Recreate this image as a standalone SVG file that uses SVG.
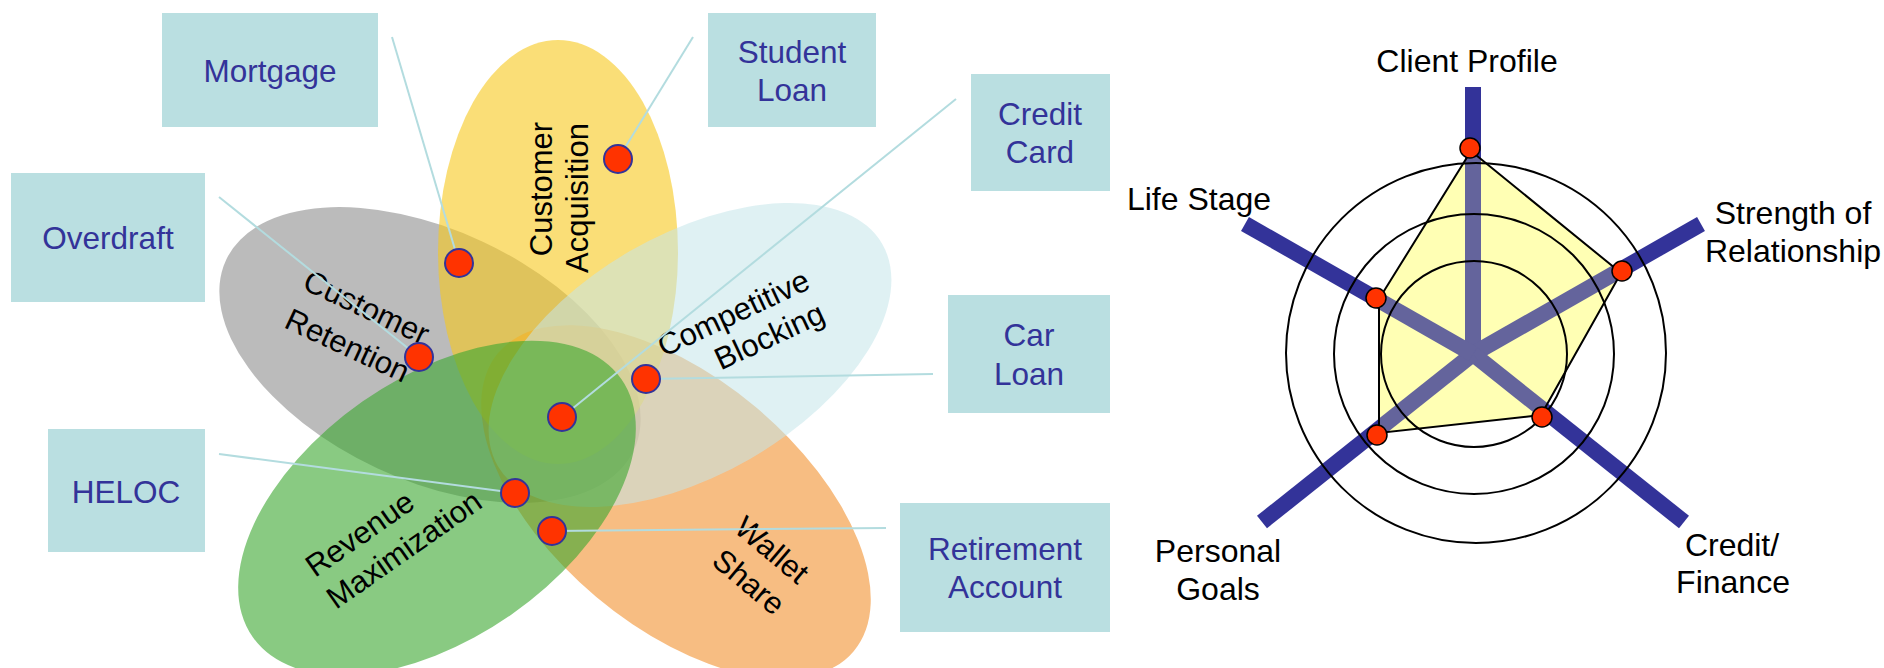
<svg xmlns="http://www.w3.org/2000/svg" width="1884" height="668" viewBox="0 0 1884 668">
<style>
.box{fill:#BADFE1}
.bt{font-family:"Liberation Sans",Arial,sans-serif;font-size:31.5px;fill:#333399;text-anchor:middle}
.pt{font-family:"Liberation Sans",Arial,sans-serif;font-size:31px;fill:#000}
.conn{stroke:#B3DCDF;stroke-width:2;fill:none}
.dot{fill:#FF3300;stroke:#333399;stroke-width:2}
.ring{fill:none;stroke:#000;stroke-width:2}
.spoke{stroke:#333399;stroke-width:16;stroke-linecap:butt}
.ispoke{stroke:#64649C;stroke-width:16}
.rdot{fill:#FF3300;stroke:#000;stroke-width:1.5}
.rl{font-family:"Liberation Sans",Arial,sans-serif;font-size:32px;fill:#000;text-anchor:middle}
</style>
<defs>
<clipPath id="polyclip"><polygon points="1471,151 1621,273 1541,415 1379,433 1379,299"/></clipPath>
</defs>
<rect width="1884" height="668" fill="#fff"/>

<g id="petals">
<g id="petal-retention"><ellipse cx="430" cy="355" rx="225" ry="125" transform="rotate(25 430 355)" fill="#8E8E8E" fill-opacity="0.6"/></g>
<g id="petal-wallet"><ellipse cx="676" cy="502" rx="232" ry="124" transform="rotate(40 676 502)" fill="#F2912F" fill-opacity="0.6"/></g>
<g id="petal-acquisition"><ellipse cx="558" cy="252" rx="120" ry="212" fill="#F7C81C" fill-opacity="0.6"/></g>
<g id="petal-blocking"><ellipse cx="690" cy="355" rx="222" ry="120" transform="rotate(-30 690 355)" fill="#C4E6E9" fill-opacity="0.55"/></g>
<g id="petal-revenue"><ellipse cx="437" cy="508" rx="225" ry="130" transform="rotate(-35 437 508)" fill="#3AA62E" fill-opacity="0.6"/></g>
</g>

<g id="petal-labels">
<text class="pt" text-anchor="middle" transform="translate(552,189) rotate(-90)">Customer</text>
<text class="pt" text-anchor="middle" transform="translate(588,198) rotate(-90)">Acquisition</text>
<text class="pt" text-anchor="middle" transform="translate(362,317) rotate(25)">Customer</text>
<text class="pt" text-anchor="middle" transform="translate(343,355) rotate(25)">Retention</text>
<text class="pt" text-anchor="end" transform="translate(812,288) rotate(-25)">Competitive</text>
<text class="pt" text-anchor="end" transform="translate(827,321) rotate(-25)">Blocking</text>
<text class="pt" text-anchor="start" transform="translate(315,578) rotate(-35)">Revenue</text>
<text class="pt" text-anchor="start" transform="translate(336,610) rotate(-35)">Maximization</text>
<text class="pt" text-anchor="middle" transform="translate(765,558) rotate(40)">Wallet</text>
<text class="pt" text-anchor="middle" transform="translate(742,590) rotate(40)">Share</text>
</g>

<g id="connectors">
<line class="conn" x1="392" y1="37" x2="459" y2="263"/>
<line class="conn" x1="693" y1="37" x2="618" y2="159"/>
<line class="conn" x1="956" y1="99" x2="562" y2="417"/>
<line class="conn" x1="219" y1="197" x2="419" y2="357"/>
<line class="conn" x1="933" y1="374" x2="646" y2="379"/>
<line class="conn" x1="219" y1="454" x2="515" y2="493"/>
<line class="conn" x1="886" y1="528" x2="552" y2="531"/>
<circle class="dot" cx="618" cy="159" r="14"/>
<circle class="dot" cx="459" cy="263" r="14"/>
<circle class="dot" cx="419" cy="357" r="14"/>
<circle class="dot" cx="646" cy="379" r="14"/>
<circle class="dot" cx="562" cy="417" r="14"/>
<circle class="dot" cx="515" cy="493" r="14"/>
<circle class="dot" cx="552" cy="531" r="14"/>
</g>

<g id="node-mortgage"><rect class="box" x="162" y="13" width="216" height="114"/><text class="bt" x="270" y="82">Mortgage</text></g>
<g id="node-student-loan"><rect class="box" x="708" y="13" width="168" height="114"/><text class="bt" x="792" y="63">Student</text><text class="bt" x="792" y="101">Loan</text></g>
<g id="node-credit-card"><rect class="box" x="971" y="74" width="139" height="117"/><text class="bt" x="1040" y="125">Credit</text><text class="bt" x="1040" y="163">Card</text></g>
<g id="node-overdraft"><rect class="box" x="11" y="173" width="194" height="129"/><text class="bt" x="108" y="249">Overdraft</text></g>
<g id="node-car-loan"><rect class="box" x="948" y="295" width="162" height="118"/><text class="bt" x="1029" y="346">Car</text><text class="bt" x="1029" y="385">Loan</text></g>
<g id="node-heloc"><rect class="box" x="48" y="429" width="157" height="123"/><text class="bt" x="126" y="503">HELOC</text></g>
<g id="node-retirement"><rect class="box" x="900" y="503" width="210" height="129"/><text class="bt" x="1005" y="560">Retirement</text><text class="bt" x="1005" y="598">Account</text></g>

<g id="radar">
<g id="spokes">
<line class="spoke" x1="1473" y1="354" x2="1473" y2="87"/>
<line class="spoke" x1="1473" y1="354" x2="1701" y2="224"/>
<line class="spoke" x1="1473" y1="354" x2="1684" y2="522"/>
<line class="spoke" x1="1473" y1="354" x2="1262" y2="522"/>
<line class="spoke" x1="1473" y1="354" x2="1245" y2="224"/>
</g>
<polygon points="1471,151 1621,273 1541,415 1379,433 1379,299" fill="#FFFFB4"/>
<g clip-path="url(#polyclip)">
<line class="ispoke" x1="1473" y1="354" x2="1473" y2="87"/>
<line class="ispoke" x1="1473" y1="354" x2="1701" y2="224"/>
<line class="ispoke" x1="1473" y1="354" x2="1684" y2="522"/>
<line class="ispoke" x1="1473" y1="354" x2="1262" y2="522"/>
<line class="ispoke" x1="1473" y1="354" x2="1245" y2="224"/>
</g>
<circle class="ring" cx="1474" cy="354" r="93"/>
<circle class="ring" cx="1474" cy="354" r="140"/>
<circle class="ring" cx="1476" cy="353" r="190"/>
<polygon points="1471,151 1621,273 1541,415 1379,433 1379,299" fill="none" stroke="#000" stroke-width="2"/>
<circle class="rdot" cx="1470" cy="148" r="10"/>
<circle class="rdot" cx="1622" cy="271" r="10"/>
<circle class="rdot" cx="1542" cy="417" r="10"/>
<circle class="rdot" cx="1377" cy="435" r="10"/>
<circle class="rdot" cx="1376" cy="298" r="10"/>
</g>
<g id="axis-client-profile"><text class="rl" x="1467" y="72">Client Profile</text></g>
<g id="axis-life-stage"><text class="rl" x="1199" y="210">Life Stage</text></g>
<g id="axis-strength"><text class="rl" x="1793" y="224">Strength of</text><text class="rl" x="1793" y="262">Relationship</text></g>
<g id="axis-credit"><text class="rl" x="1732" y="556">Credit/</text><text class="rl" x="1733" y="593">Finance</text></g>
<g id="axis-personal"><text class="rl" x="1218" y="562">Personal</text><text class="rl" x="1218" y="600">Goals</text></g>
</svg>
